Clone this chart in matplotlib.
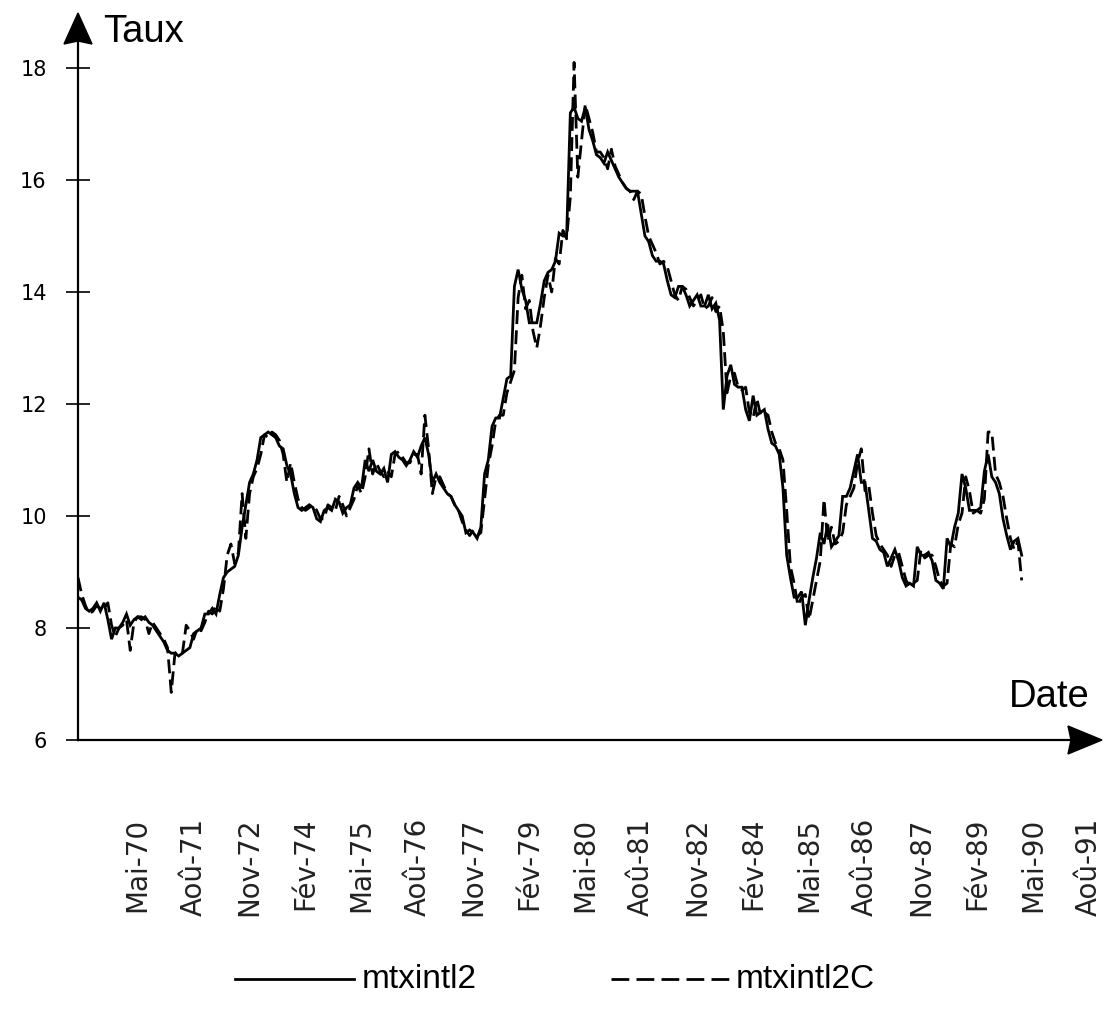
import matplotlib
matplotlib.use("Agg")
import matplotlib.pyplot as plt
from matplotlib.patches import Polygon

# ---------------- data (monthly observations) ----------------
months = list(range(254))

mtxintl2 = [
    8.55, 8.5, 8.35, 8.3, 8.35, 8.45, 8.3, 8.45, 8.15, 7.8,
    8.0, 8.0, 8.1, 8.25, 8.05, 8.15, 8.2, 8.15, 8.2, 8.1,
    8.05, 7.95, 7.85, 7.75, 7.6, 7.55, 7.55, 7.5, 7.55, 7.6,
    7.65, 7.9, 7.95, 8.0, 8.25, 8.25, 8.35, 8.25, 8.6, 8.9,
    9.0, 9.05, 9.1, 9.3, 9.8, 10.2, 10.6, 10.75, 11.0, 11.4,
    11.45, 11.5, 11.45, 11.4, 11.25, 11.2, 10.9, 10.75, 10.4, 10.15,
    10.1, 10.15, 10.2, 10.15, 9.95, 9.9, 10.1, 10.15, 10.1, 10.3,
    10.25, 10.05, 10.15, 10.2, 10.5, 10.6, 10.5, 11.0, 10.8, 11.0,
    10.8, 10.75, 10.85, 10.6, 11.1, 11.15, 11.05, 11.0, 10.9, 11.0,
    11.15, 11.05, 11.25, 11.4, 11.1, 10.6, 10.75, 10.6, 10.5, 10.4,
    10.35, 10.2, 10.1, 10.0, 9.7, 9.75, 9.7, 9.6, 9.8, 10.75,
    11.0, 11.6, 11.75, 11.75, 12.1, 12.45, 12.5, 14.1, 14.4, 14.05,
    13.85, 13.45, 13.45, 13.45, 13.8, 14.2, 14.35, 14.4, 14.55, 15.05,
    15.0, 15.0, 17.2, 17.3, 17.1, 17.05, 17.3, 16.9, 16.7, 16.45,
    16.4, 16.3, 16.5, 16.35, 16.2, 16.05, 15.95, 15.85, 15.8, 15.8,
    15.8, 15.4, 15.0, 14.9, 14.65, 14.55, 14.55, 14.5, 14.2, 13.95,
    13.9, 14.1, 14.1, 13.95, 13.75, 13.85, 13.95, 13.75, 13.75, 13.95,
    13.7, 13.8, 13.5, 11.9, 12.5, 12.7, 12.35, 12.3, 12.3, 11.9,
    11.7, 12.15, 11.8, 11.85, 11.9, 11.55, 11.3, 11.25, 11.1, 10.5,
    9.3, 8.9, 8.55, 8.55, 8.65, 8.05, 8.5, 8.9, 9.25, 9.7,
    9.5, 9.85, 9.45, 9.55, 9.65, 10.35, 10.35, 10.5, 10.8, 11.1,
    10.6, 10.6, 10.1, 9.6, 9.55, 9.4, 9.35, 9.1, 9.25, 9.4,
    9.2, 8.9, 8.75, 8.8, 8.75, 9.45, 9.3, 9.3, 9.35, 9.2,
    8.85, 8.8, 8.7, 9.6, 9.45, 9.8, 10.05, 10.75, 10.5, 10.1,
    10.1, 10.1, 10.15, 10.8, 11.1, 10.7, 10.6, 10.4, 9.95, 9.65,
    9.4, 9.55, 9.6, 9.3,
]

mtxintl2C = [
    8.9, 8.6, 8.4, 8.25, 8.3, 8.4, 8.35, 8.35, 8.45, 8.05,
    7.85, 8.0, 8.05, 8.15, 7.6, 8.1, 8.2, 8.2, 8.15, 7.9,
    8.1, 8.0, 7.9, 7.8, 7.65, 6.85, 7.55, 7.6, 7.55, 8.05,
    7.95, 7.8, 8.0, 7.95, 8.1, 8.3, 8.25, 8.4, 8.3, 8.7,
    9.3, 9.5, 9.15, 9.35, 10.4, 9.6, 10.4, 10.7, 10.85, 11.1,
    11.45, 11.4, 11.5, 11.45, 11.35, 11.1, 10.6, 10.95, 10.6, 10.3,
    10.15, 10.1, 10.15, 10.2, 10.1, 9.95, 9.95, 10.2, 10.15, 10.1,
    10.35, 10.2, 10.0, 10.15, 10.3, 10.55, 10.4, 10.7, 11.2, 10.75,
    10.95, 10.8, 10.7, 10.8, 10.7, 11.1, 11.15, 11.05, 10.95, 10.95,
    11.1, 11.1, 10.75, 11.8, 11.2, 10.4, 10.7, 10.7, 10.55, 10.4,
    10.35, 10.2, 10.1, 9.9, 9.75, 9.65, 9.75, 9.65, 9.7, 10.3,
    10.9, 11.25, 11.7, 11.8, 11.8, 12.2, 12.4, 12.6, 13.9, 14.3,
    13.7, 13.85, 13.3, 13.0, 13.4, 13.9, 14.3, 14.0, 14.6, 14.5,
    15.1, 14.95, 15.7, 18.1, 16.05, 16.7, 17.35, 17.1, 16.85, 16.5,
    16.5, 16.4, 16.2, 16.55, 16.25, 16.1, 15.95, 15.85, 15.8, 15.65,
    15.8, 15.75, 15.35, 15.0, 14.85, 14.7, 14.5, 14.55, 14.45, 14.2,
    13.95, 13.85, 14.1, 14.05, 13.9, 13.75, 13.85, 13.95, 13.7, 13.75,
    13.9, 13.65, 13.75, 13.3, 12.2, 12.5, 12.55, 12.3, 12.25, 12.3,
    11.85, 11.75, 12.1, 11.8, 11.85, 11.8, 11.5, 11.3, 11.2, 11.0,
    10.1, 9.1, 8.8, 8.4, 8.55, 8.6, 8.15, 8.5, 8.85, 9.2,
    10.3, 9.55, 9.8, 9.5, 9.55, 9.7, 10.2, 10.35, 10.5, 10.95,
    11.2, 10.45, 10.55, 10.05, 9.65, 9.5, 9.4, 9.3, 9.1, 9.3,
    9.35, 9.1, 8.85, 8.75, 8.8, 8.85, 9.4, 9.25, 9.3, 9.3,
    9.1, 8.85, 8.75, 8.8, 9.5, 9.45, 9.85, 10.05, 10.7, 10.45,
    10.05, 10.1, 10.05, 10.3, 11.5, 11.5, 10.75, 10.6, 10.35, 9.95,
    9.6, 9.4, 9.55, 8.85,
]

ytick_values = [6, 8, 10, 12, 14, 16, 18]
xtick_months = [16, 31, 46, 61, 76, 91, 106, 121, 136, 151,
                166, 181, 196, 211, 226, 241, 256, 271]
xtick_labels = ["Mai-70", "Aoû-71", "Nov-72", "Fév-74", "Mai-75", "Aoû-76",
                "Nov-77", "Fév-79", "Mai-80", "Aoû-81", "Nov-82", "Fév-84",
                "Mai-85", "Aoû-86", "Nov-87", "Fév-89", "Mai-90", "Aoû-91"]
series_names = ["mtxintl2", "mtxintl2C"]

# ---------------- figure ----------------
W, H = 1107, 1018
plt.rcParams["lines.scale_dashes"] = False
fig = plt.figure(figsize=(W / 100, H / 100), dpi=100)

# overlay in pixel coordinates for axis arrows, titles and legend
ov = fig.add_axes([0, 0, 1, 1])
ov.set_xlim(0, W)
ov.set_ylim(H, 0)
ov.axis("off")

X0, Y0 = 78, 740          # origin pixel
ax = fig.add_axes([X0 / W, (H - Y0) / H, (1100 - X0) / W, 720 / H])
ax.patch.set_alpha(0)
ax.set_xlim(0, 274)
ax.set_ylim(6, 6 + 720 / 56)
for s in ax.spines.values():
    s.set_visible(False)

LW = 2.0
DASH = (10, 4.5)
l1, = ax.plot(months, mtxintl2, color="black", lw=LW,
              solid_joinstyle="miter", label=series_names[0])
l2, = ax.plot(months, mtxintl2C, color="black", lw=LW,
              dashes=DASH, label=series_names[1])

# y ticks
ax.set_yticks(ytick_values)
ax.set_yticklabels([str(v) for v in ytick_values], fontsize=15,
                   family="DejaVu Sans")
ax.tick_params(axis="y", direction="inout", length=17, width=1.2,
               pad=14, color="black")

# x ticks (labels only)
ax.set_xticks(xtick_months)
ax.set_xticklabels(xtick_labels, rotation=90, fontsize=20,
                   family="DejaVu Sans", color="#222222")
ax.tick_params(axis="x", length=0, pad=56)

# axes lines with arrow heads
ov.plot([X0, X0], [Y0, 40], color="black", lw=1.6)
ov.plot([X0, 1070], [Y0, Y0], color="black", lw=1.6)
ov.add_patch(Polygon([[X0, 13], [X0 - 14, 44], [X0, 41], [X0 + 14, 44]],
                     closed=True, color="black"))
ov.add_patch(Polygon([[1102, Y0], [1068, Y0 - 14], [1071, Y0], [1068, Y0 + 14]],
                     closed=True, color="black"))

ov.text(103, 42, "Taux", fontsize=27.5, family="Liberation Sans",
        ha="left", va="baseline")
ov.text(1090, 707, "Date", fontsize=27.5, family="Liberation Sans",
        ha="right", va="baseline")

# legend (centred under the chart)
LEG_FONT = "Liberation Sans"
LY = 979
ov.plot([235, 354], [LY, LY], color="black", lw=LW)
ov.text(362, LY, series_names[0], fontsize=24, family=LEG_FONT,
        ha="left", va="center")
ov.plot([611, 729], [LY, LY], color="black", lw=LW, dashes=(12.8, 5.2))
ov.text(736, LY, series_names[1], fontsize=24, family=LEG_FONT,
        ha="left", va="center")

fig.savefig("out.png", dpi=100)
